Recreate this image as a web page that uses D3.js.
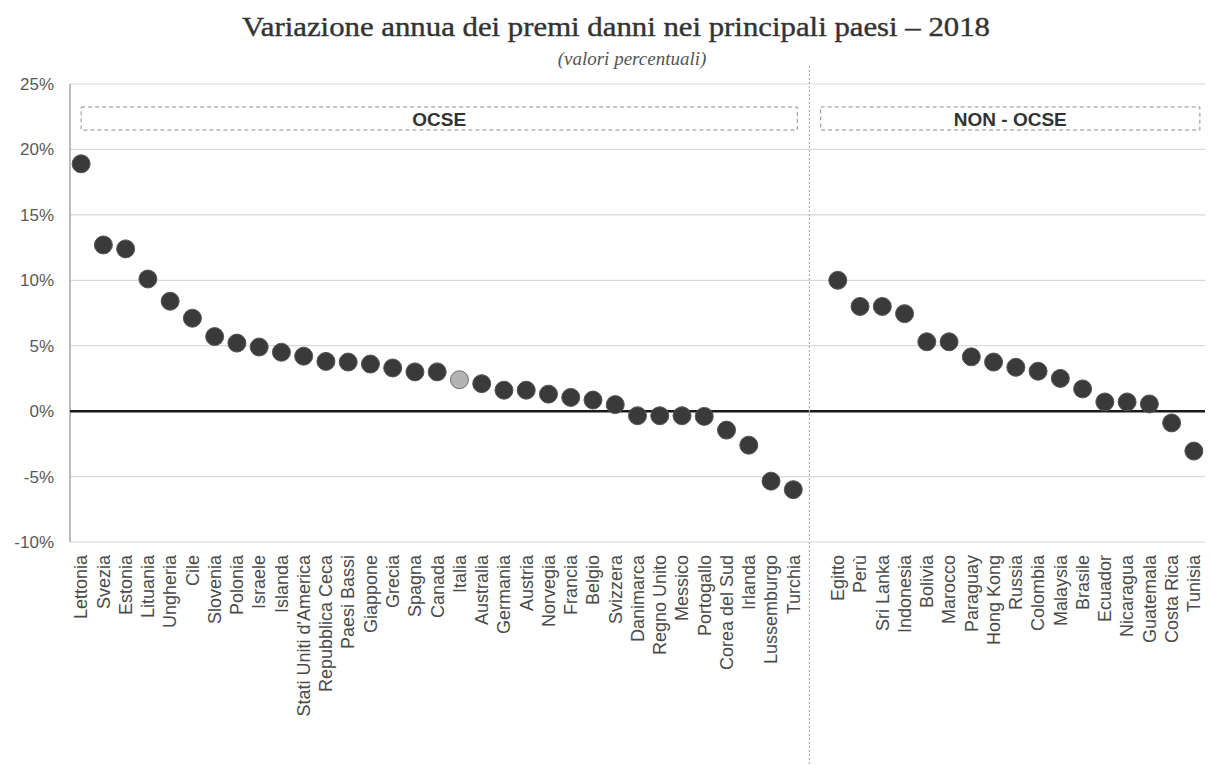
<!DOCTYPE html>
<html>
<head>
<meta charset="utf-8">
<script src="https://cdn.jsdelivr.net/npm/d3@7"></script>
<style>
  body { margin: 0; background: #fff; }
  svg { display: block; }
</style>
</head>
<body>
<svg id="chart" width="1210" height="765"></svg>
<script>
// data (percent)
const ocseCountries = ["Lettonia", "Svezia", "Estonia", "Lituania", "Ungheria", "Cile", "Slovenia", "Polonia",
    "Israele", "Islanda", "Stati Uniti d'America", "Repubblica Ceca", "Paesi Bassi", "Giappone", "Grecia",
    "Spagna", "Canada", "Italia", "Australia", "Germania", "Austria", "Norvegia", "Francia", "Belgio",
    "Svizzera", "Danimarca", "Regno Unito", "Messico", "Portogallo", "Corea del Sud", "Irlanda",
    "Lussemburgo", "Turchia"];
const ocseValues = [18.9, 12.7, 12.4, 10.1, 8.4, 7.1, 5.7, 5.2, 4.9, 4.5, 4.2, 3.8, 3.75, 3.6, 3.3,
    3.0, 3.0, 2.4, 2.1, 1.6, 1.6, 1.3, 1.05, 0.85, 0.5, -0.35, -0.35, -0.35, -0.4, -1.45, -2.6,
    -5.35, -6.0];
const nonOcseCountries = ["Egitto", "Perù", "Sri Lanka", "Indonesia", "Bolivia", "Marocco", "Paraguay",
    "Hong Kong", "Russia", "Colombia", "Malaysia", "Brasile", "Ecuador", "Nicaragua", "Guatemala",
    "Costa Rica", "Tunisia"];
const nonOcseValues = [10.0, 8.0, 8.0, 7.45, 5.3, 5.3, 4.15, 3.75, 3.35, 3.05, 2.5, 1.7, 0.7, 0.7, 0.55,
    -0.9, -3.05];
const yTicks = [25, 20, 15, 10, 5, 0, -5, -10];
const highlight = "Italia";

const svg = d3.select("#chart");
const plotLeft = 70, plotRight = 1205, plotTop = 84, plotBottom = 542;

const points = ocseCountries.map((c, i) => ({ name: c, value: ocseValues[i], group: "ocse" }))
    .concat(nonOcseCountries.map((c, i) => ({ name: c, value: nonOcseValues[i], group: "non" })));

// one empty slot between the two groups
const domain = ocseCountries.concat(["__gap__"], nonOcseCountries);
const x = d3.scaleBand().domain(domain).range([plotLeft, plotRight]).padding(0);
const y = d3.scaleLinear().domain([-10, 25]).range([plotBottom, plotTop]);
const cx = d => x(d) + x.bandwidth() / 2;

// title
svg.append("text")
    .attr("x", 616)
    .attr("y", 36)
    .attr("text-anchor", "middle")
    .attr("font-family", "'Liberation Serif', 'DejaVu Serif', serif")
    .attr("font-size", "28px")
    .attr("textLength", 748)
    .attr("lengthAdjust", "spacingAndGlyphs")
    .attr("fill", "#333")
    .attr("stroke", "#333")
    .attr("stroke-width", 0.4)
    .text("Variazione annua dei premi danni nei principali paesi – 2018");

svg.append("text")
    .attr("x", 632)
    .attr("y", 65)
    .attr("text-anchor", "middle")
    .attr("font-family", "'Liberation Serif', 'DejaVu Serif', serif")
    .attr("font-style", "italic")
    .attr("font-size", "19px")
    .attr("fill", "#555")
    .text("(valori percentuali)");

// gridlines
svg.append("g")
    .selectAll("line")
    .data(yTicks.filter(t => t !== 0))
    .enter()
    .append("line")
    .attr("x1", plotLeft)
    .attr("x2", plotRight)
    .attr("y1", d => y(d))
    .attr("y2", d => y(d))
    .attr("stroke", "#d9d9d9")
    .attr("stroke-width", 1.2);

// y axis labels
svg.append("g")
    .selectAll("text")
    .data(yTicks)
    .enter()
    .append("text")
    .attr("x", 54)
    .attr("y", d => y(d))
    .attr("dy", "0.35em")
    .attr("text-anchor", "end")
    .attr("font-family", "'Liberation Sans', Arial, sans-serif")
    .attr("font-size", "17px")
    .attr("fill", "#595959")
    .text(d => d + "%");

// left axis line
svg.append("line")
    .attr("x1", plotLeft).attr("x2", plotLeft)
    .attr("y1", y(25)).attr("y2", y(-10))
    .attr("stroke", "#a6a6a6")
    .attr("stroke-width", 1.5);

// zero line
svg.append("line")
    .attr("x1", plotLeft).attr("x2", plotRight)
    .attr("y1", y(0)).attr("y2", y(0))
    .attr("stroke", "#1a1a1a")
    .attr("stroke-width", 2.5);

// divider between groups
const divX = x("__gap__") + 5;
svg.append("line")
    .attr("x1", divX).attr("x2", divX)
    .attr("y1", 66).attr("y2", 765)
    .attr("stroke", "#b0b0b0")
    .attr("stroke-width", 1.2)
    .attr("stroke-dasharray", "2,2");

// group boxes
const groups = [
    { label: "OCSE", x0: cx(ocseCountries[0]), x1: cx(ocseCountries[ocseCountries.length - 1]) + 4 },
    { label: "NON - OCSE", x0: x(nonOcseCountries[0]) - 6, x1: cx(nonOcseCountries[nonOcseCountries.length - 1]) + 6 }
];
groups.forEach(g => {
    svg.append("rect")
        .attr("x", g.x0)
        .attr("y", 107)
        .attr("width", g.x1 - g.x0)
        .attr("height", 23)
        .attr("fill", "none")
        .attr("stroke", "#8c8c8c")
        .attr("stroke-width", 1)
        .attr("stroke-dasharray", "4,3");
    svg.append("text")
        .attr("x", (g.x0 + g.x1) / 2)
        .attr("y", 119)
        .attr("dy", "0.35em")
        .attr("text-anchor", "middle")
        .attr("font-family", "'Liberation Sans', Arial, sans-serif")
        .attr("font-weight", "bold")
        .attr("font-size", "19px")
        .attr("fill", "#333")
        .text(g.label);
});

// x labels
svg.append("g")
    .selectAll("text")
    .data(points)
    .enter()
    .append("text")
    .attr("transform", d => "translate(" + cx(d.name) + ",555) rotate(-90)")
    .attr("dy", "0.35em")
    .attr("text-anchor", "end")
    .attr("font-family", "'Liberation Sans', Arial, sans-serif")
    .attr("font-size", "18px")
    .attr("fill", "#4a4a4a")
    .text(d => d.name);

// dots
svg.append("g")
    .selectAll("circle")
    .data(points)
    .enter()
    .append("circle")
    .attr("cx", d => cx(d.name))
    .attr("cy", d => y(d.value))
    .attr("r", 9)
    .attr("fill", d => d.name === highlight ? "#b3b3b3" : "#3a3a3a")
    .attr("stroke", d => d.name === highlight ? "#6e6e6e" : "#555")
    .attr("stroke-width", 1);
</script>
</body>
</html>
